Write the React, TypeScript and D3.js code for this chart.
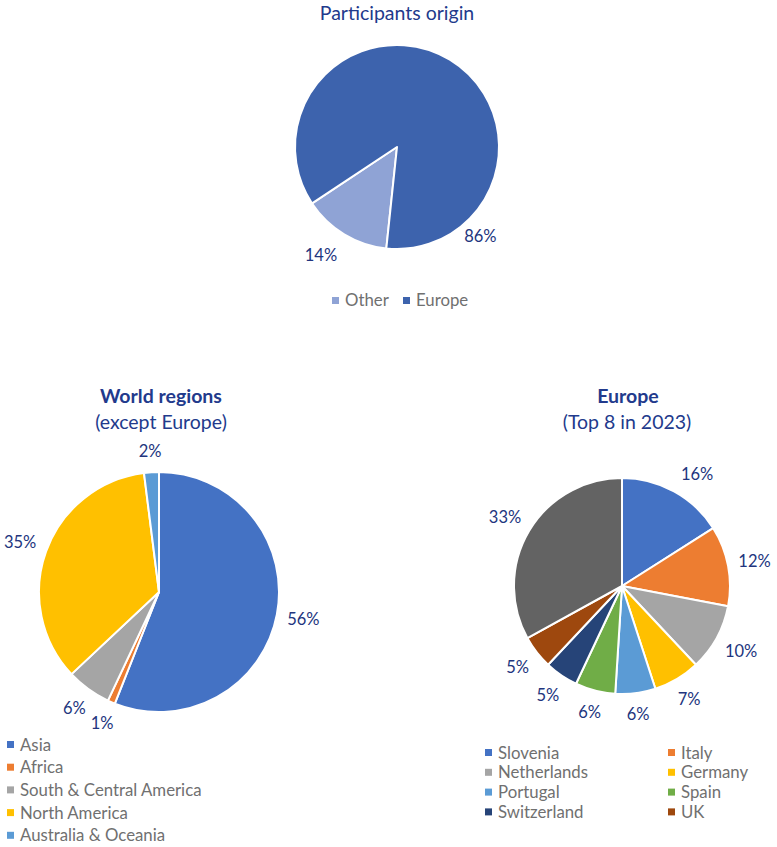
import React from "react";
import * as d3 from "d3";

// ---------- data ----------
const originLabels = ["Other", "Europe"];
const originValues = [14, 86];
const originColors = ["#8FA3D5", "#3D63AD"];

const worldLabels = ["Asia", "Africa", "South & Central America", "North America", "Australia & Oceania"];
const worldValues = [56, 1, 6, 35, 2];
const worldColors = ["#4472C4", "#ED7D31", "#A5A5A5", "#FFC000", "#5B9BD5"];

const europeLabels = ["Slovenia", "Italy", "Netherlands", "Germany", "Portugal", "Spain", "Switzerland", "UK", "Other"];
const europeValues = [16, 12, 10, 7, 6, 6, 5, 5, 33];
const europeColors = ["#4472C4", "#ED7D31", "#A5A5A5", "#FFC000", "#5B9BD5", "#70AD47", "#264478", "#9E480E", "#636363"];

// ---------- styling ----------
const FONT = "Lato, 'Open Sans', sans-serif";
const TITLE_COLOR = "#223A8C";
const LABEL_COLOR = "#22357E";
const LEGEND_COLOR = "#707070";
const LEGEND_FS = 16.8;
const TITLE_FS = 19.5;

type LabelOverride = { angle?: number; gap?: number } | null;

type PieProps = {
  cx: number;
  cy: number;
  r: number;
  values: number[];
  colors: string[];
  startDeg: number;
  labelGap: number;
  overrides?: LabelOverride[];
};

function Pie({ cx, cy, r, values, colors, startDeg, labelGap, overrides }: PieProps) {
  const start = (startDeg * Math.PI) / 180;
  const pie = d3.pie<number>().sort(null).value((d) => d).startAngle(start).endAngle(start + 2 * Math.PI);
  const arcs = pie(values);
  const arc = d3.arc<d3.PieArcDatum<number>>().innerRadius(0).outerRadius(r);
  const total = d3.sum(values);
  const fmt = d3.format(".0%");
  const fs = 16.5;
  return (
    <g transform={`translate(${cx},${cy})`}>
      {arcs.map((a, i) => (
        <path key={i} d={arc(a) || ""} fill={colors[i]} stroke="#fff" strokeWidth={2} strokeLinejoin="round" />
      ))}
      {arcs.map((a, i) => {
        const ov = overrides ? overrides[i] : null;
        const ang = ov && ov.angle != null ? (ov.angle * Math.PI) / 180 : (a.startAngle + a.endAngle) / 2;
        const gap = ov && ov.gap != null ? ov.gap : labelGap;
        const txt = fmt(a.value / total);
        const w = txt.length * fs * 0.55;
        const h = fs;
        const ext = Math.abs(Math.sin(ang)) * (w / 2) + Math.abs(Math.cos(ang)) * (h / 2);
        const rr = r + gap + ext;
        const x = Math.sin(ang) * rr;
        const y = -Math.cos(ang) * rr;
        return (
          <text key={"l" + i} x={x} y={y} dy="0.35em" textAnchor="middle" fontSize={fs} fill={LABEL_COLOR} fontFamily={FONT}>
            {txt}
          </text>
        );
      })}
    </g>
  );
}

export default function App() {
  return (
    <svg width={777} height={847} style={{ position: "absolute", left: 0, top: 0, background: "#fff" }} fontFamily={FONT}>
      <rect width={777} height={847} fill="#fff" />

      {/* Top chart */}
      <text x={397} y={20} textAnchor="middle" fontSize={TITLE_FS} fill={TITLE_COLOR}>Participants origin</text>
      <Pie cx={397} cy={147} r={102} values={originValues} colors={originColors} startDeg={186} labelGap={16}
        overrides={[{ angle: 215 }, { angle: 137, gap: 5 }]} />
      {originLabels.map((l, i) => {
        const xs = [332, 403];
        return (
          <g key={l}>
            <rect x={xs[i]} y={297} width={7} height={7} fill={originColors[i]} />
            <text x={xs[i] + 13} y={306} fontSize={LEGEND_FS} fill={LEGEND_COLOR}>{l}</text>
          </g>
        );
      })}

      {/* World regions */}
      <text x={161} y={403} textAnchor="middle" fontSize={TITLE_FS} fontWeight="bold" fill={TITLE_COLOR}>World regions</text>
      <text x={161} y={429} textAnchor="middle" fontSize={TITLE_FS} fill={TITLE_COLOR}>(except Europe)</text>
      <Pie cx={159} cy={592} r={120} values={worldValues} colors={worldColors} startDeg={0} labelGap={12} />
      {worldLabels.map((l, i) => (
        <g key={l}>
          <rect x={7} y={741 + i * 22.7} width={7} height={7} fill={worldColors[i]} />
          <text x={20} y={750.5 + i * 22.7} fontSize={LEGEND_FS} fill={LEGEND_COLOR}>{l}</text>
        </g>
      ))}

      {/* Europe */}
      <text x={628} y={403} textAnchor="middle" fontSize={TITLE_FS} fontWeight="bold" fill={TITLE_COLOR}>Europe</text>
      <text x={627} y={429} textAnchor="middle" fontSize={TITLE_FS} fill={TITLE_COLOR}>(Top 8 in 2023)</text>
      <Pie cx={622} cy={586} r={108} values={europeValues} colors={europeColors} startDeg={0} labelGap={12}
        overrides={[{ angle: 34 }]} />
      {europeLabels.slice(0, 8).map((l, i) => {
        const col = i % 2;
        const row = Math.floor(i / 2);
        const x = col === 0 ? 485 : 668;
        return (
          <g key={l}>
            <rect x={x} y={749 + row * 19.8} width={7} height={7} fill={europeColors[i]} />
            <text x={x + 13} y={758.5 + row * 19.8} fontSize={LEGEND_FS} fill={LEGEND_COLOR}>{l}</text>
          </g>
        );
      })}
    </svg>
  );
}
